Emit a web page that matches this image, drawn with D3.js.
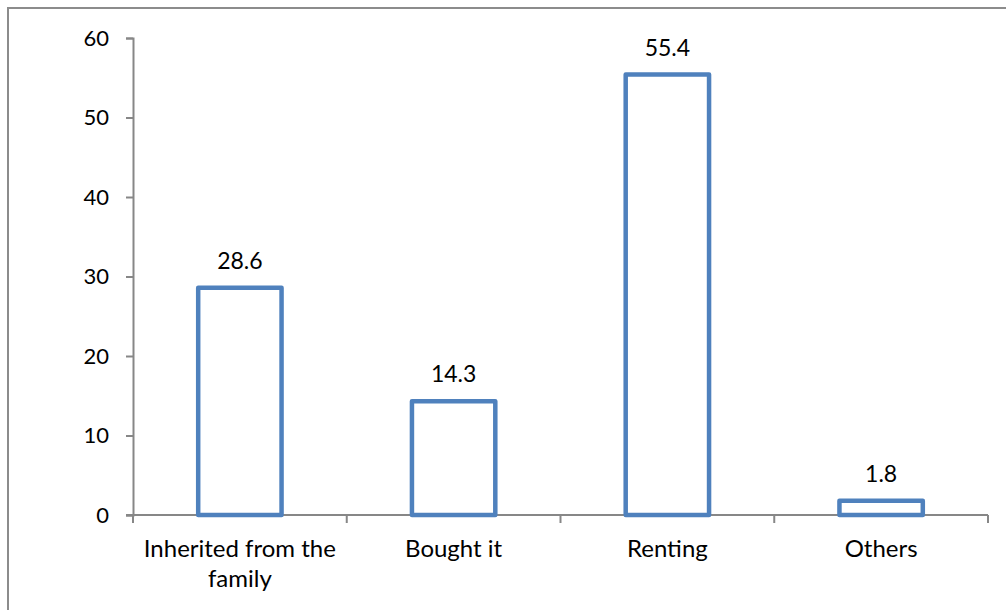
<!DOCTYPE html>
<html>
<head>
<meta charset="utf-8">
<script src="https://cdn.jsdelivr.net/npm/d3@7"></script>
<style>
  html, body { margin: 0; padding: 0; background: #fff; }
  svg { display: block; }
  text { font-family: Lato, "Open Sans", sans-serif; fill: #000; }
</style>
</head>
<body>
<svg id="chart" width="1006" height="610"></svg>
<script>
// Housing tenure shares (%)
const categories = [["Inherited from the", "family"], ["Bought it"], ["Renting"], ["Others"]];
const values = [28.6, 14.3, 55.4, 1.8];
const yTicks = [0, 10, 20, 30, 40, 50, 60];

const svg = d3.select("#chart");
const W = 1006, H = 610;
const plot = { left: 133, right: 988, top: 38, bottom: 515 };
const axisColor = "#878787";
const barColor = "#4f81bd";

// outer frame (runs off the right and bottom edges)
svg.append("rect")
  .attr("x", 8).attr("y", 8)
  .attr("width", W).attr("height", H)
  .attr("fill", "none").attr("stroke", "#8c8c8c").attr("stroke-width", 2);

const x = d3.scaleBand()
  .domain(d3.range(values.length))
  .range([plot.left, plot.right])
  .padding(0);

const y = d3.scaleLinear()
  .domain([0, 60])
  .range([plot.bottom, plot.top]);

// y axis
const yAxis = svg.append("g")
  .attr("transform", `translate(${plot.left},0)`)
  .call(d3.axisLeft(y).tickValues(yTicks).tickSize(7).tickPadding(17));
yAxis.select(".domain").attr("stroke", axisColor).attr("stroke-width", 2);
yAxis.selectAll(".tick line").attr("stroke", axisColor).attr("stroke-width", 2);
yAxis.selectAll(".tick text")
  .attr("font-size", 22)
  .attr("font-family", "Lato, 'Open Sans', sans-serif")
  .attr("fill", "#000");

// x axis line with tick marks at category boundaries
svg.append("line")
  .attr("x1", plot.left - 7).attr("x2", plot.right)
  .attr("y1", plot.bottom).attr("y2", plot.bottom)
  .attr("stroke", axisColor).attr("stroke-width", 2);
const boundaries = d3.range(values.length + 1).map(i => plot.left + i * x.step());
svg.append("g").selectAll("line")
  .data(boundaries)
  .join("line")
  .attr("x1", d => d).attr("x2", d => d)
  .attr("y1", plot.bottom).attr("y2", plot.bottom + 8)
  .attr("stroke", axisColor).attr("stroke-width", 2);

// bars
const barW = x.bandwidth() * 0.39;
const cx = i => x(i) + x.bandwidth() / 2;
svg.append("g").selectAll("rect")
  .data(values)
  .join("rect")
  .attr("x", (d, i) => cx(i) - barW / 2)
  .attr("y", d => y(d))
  .attr("width", barW)
  .attr("height", d => y(0) - y(d))
  .attr("fill", "#fff")
  .attr("stroke", barColor)
  .attr("stroke-width", 4.5)
  .attr("stroke-linejoin", "round");

// value labels
svg.append("g").selectAll("text")
  .data(values)
  .join("text")
  .attr("x", (d, i) => cx(i))
  .attr("y", d => y(d) - 19)
  .attr("text-anchor", "middle")
  .attr("font-size", 23)
  .text(d => d.toFixed(1));

// category labels
const catG = svg.append("g").selectAll("text")
  .data(categories)
  .join("text")
  .attr("x", (d, i) => cx(i))
  .attr("y", 557)
  .attr("text-anchor", "middle")
  .attr("font-size", 24);
catG.selectAll("tspan")
  .data(d => d)
  .join("tspan")
  .attr("x", function () { return d3.select(this.parentNode).attr("x"); })
  .attr("dy", (d, j) => j === 0 ? 0 : 30)
  .text(d => d);
</script>
</body>
</html>
